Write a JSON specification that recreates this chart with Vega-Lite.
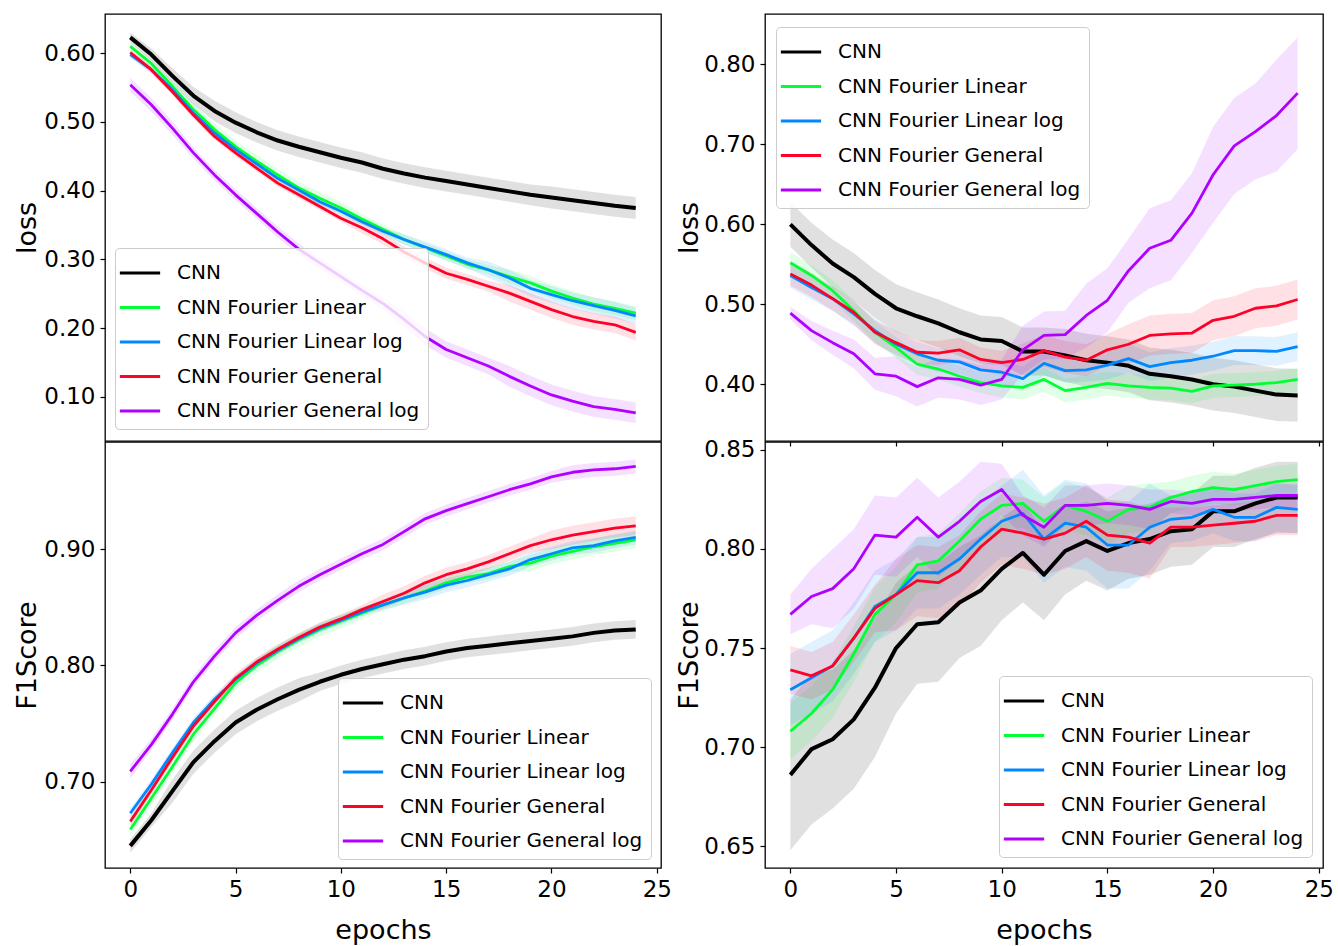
{
"$schema": "https://vega.github.io/schema/vega-lite/v6.json",
"padding": {"left": 12, "top": 13, "right": 4, "bottom": 4},
"background": "white",
"config": {
  "font": "DejaVu Sans",
  "view": {"stroke": "black", "strokeWidth": 1.3},
  "axis": {"domain": false, "grid": false, "ticks": true, "tickColor": "black", "tickSize": 5, "tickWidth": 1.2, "labelFont": "DejaVu Sans", "labelFontSize": 23, "labelColor": "black", "labelPadding": 5, "titleFont": "DejaVu Sans", "titleFontSize": 27, "titleFontWeight": "normal", "titleColor": "black"},
  "legend": {"symbolType": "M-1.3,0H1.3", "symbolSize": 961, "symbolStrokeWidth": 2.8, "labelFont": "DejaVu Sans", "labelFontSize": 20, "labelColor": "black", "labelOffset": 20, "rowPadding": 7.5, "padding": 8, "fillColor": "rgba(255,255,255,0.8)", "strokeColor": "#cccccc", "cornerRadius": 4, "labelLimit": 400}
},
"datasets": {
"tl": [
{"e":0,"s":"CNN","m":0.623,"lo":0.616,"hi":0.630},{"e":1,"s":"CNN","m":0.598,"lo":0.589,"hi":0.607},{"e":2,"s":"CNN","m":0.567,"lo":0.556,"hi":0.578},{"e":3,"s":"CNN","m":0.538,"lo":0.525,"hi":0.551},{"e":4,"s":"CNN","m":0.516,"lo":0.501,"hi":0.531},{"e":5,"s":"CNN","m":0.499,"lo":0.484,"hi":0.514},{"e":6,"s":"CNN","m":0.485,"lo":0.470,"hi":0.500},{"e":7,"s":"CNN","m":0.473,"lo":0.458,"hi":0.488},{"e":8,"s":"CNN","m":0.464,"lo":0.449,"hi":0.479},{"e":9,"s":"CNN","m":0.456,"lo":0.441,"hi":0.471},{"e":10,"s":"CNN","m":0.448,"lo":0.433,"hi":0.463},{"e":11,"s":"CNN","m":0.441,"lo":0.426,"hi":0.456},{"e":12,"s":"CNN","m":0.432,"lo":0.417,"hi":0.447},{"e":13,"s":"CNN","m":0.425,"lo":0.410,"hi":0.440},{"e":14,"s":"CNN","m":0.419,"lo":0.404,"hi":0.434},{"e":15,"s":"CNN","m":0.414,"lo":0.399,"hi":0.429},{"e":16,"s":"CNN","m":0.409,"lo":0.394,"hi":0.424},{"e":17,"s":"CNN","m":0.404,"lo":0.389,"hi":0.419},{"e":18,"s":"CNN","m":0.399,"lo":0.384,"hi":0.414},{"e":19,"s":"CNN","m":0.394,"lo":0.379,"hi":0.409},{"e":20,"s":"CNN","m":0.390,"lo":0.374,"hi":0.406},{"e":21,"s":"CNN","m":0.386,"lo":0.370,"hi":0.402},{"e":22,"s":"CNN","m":0.382,"lo":0.366,"hi":0.398},{"e":23,"s":"CNN","m":0.378,"lo":0.362,"hi":0.394},{"e":24,"s":"CNN","m":0.375,"lo":0.359,"hi":0.391},
{"e":0,"s":"CNN Fourier Linear","m":0.610,"lo":0.604,"hi":0.616},{"e":1,"s":"CNN Fourier Linear","m":0.585,"lo":0.579,"hi":0.591},{"e":2,"s":"CNN Fourier Linear","m":0.552,"lo":0.546,"hi":0.558},{"e":3,"s":"CNN Fourier Linear","m":0.518,"lo":0.509,"hi":0.527},{"e":4,"s":"CNN Fourier Linear","m":0.489,"lo":0.480,"hi":0.498},{"e":5,"s":"CNN Fourier Linear","m":0.464,"lo":0.455,"hi":0.473},{"e":6,"s":"CNN Fourier Linear","m":0.443,"lo":0.434,"hi":0.452},{"e":7,"s":"CNN Fourier Linear","m":0.423,"lo":0.414,"hi":0.432},{"e":8,"s":"CNN Fourier Linear","m":0.404,"lo":0.395,"hi":0.413},{"e":9,"s":"CNN Fourier Linear","m":0.389,"lo":0.380,"hi":0.398},{"e":10,"s":"CNN Fourier Linear","m":0.375,"lo":0.366,"hi":0.384},{"e":11,"s":"CNN Fourier Linear","m":0.359,"lo":0.352,"hi":0.366},{"e":12,"s":"CNN Fourier Linear","m":0.344,"lo":0.337,"hi":0.351},{"e":13,"s":"CNN Fourier Linear","m":0.329,"lo":0.322,"hi":0.336},{"e":14,"s":"CNN Fourier Linear","m":0.317,"lo":0.310,"hi":0.324},{"e":15,"s":"CNN Fourier Linear","m":0.305,"lo":0.298,"hi":0.312},{"e":16,"s":"CNN Fourier Linear","m":0.293,"lo":0.286,"hi":0.300},{"e":17,"s":"CNN Fourier Linear","m":0.285,"lo":0.278,"hi":0.292},{"e":18,"s":"CNN Fourier Linear","m":0.275,"lo":0.265,"hi":0.285},{"e":19,"s":"CNN Fourier Linear","m":0.266,"lo":0.256,"hi":0.276},{"e":20,"s":"CNN Fourier Linear","m":0.254,"lo":0.244,"hi":0.264},{"e":21,"s":"CNN Fourier Linear","m":0.244,"lo":0.234,"hi":0.254},{"e":22,"s":"CNN Fourier Linear","m":0.235,"lo":0.225,"hi":0.245},{"e":23,"s":"CNN Fourier Linear","m":0.229,"lo":0.219,"hi":0.239},{"e":24,"s":"CNN Fourier Linear","m":0.222,"lo":0.212,"hi":0.232},
{"e":0,"s":"CNN Fourier Linear log","m":0.598,"lo":0.593,"hi":0.603},{"e":1,"s":"CNN Fourier Linear log","m":0.576,"lo":0.571,"hi":0.581},{"e":2,"s":"CNN Fourier Linear log","m":0.547,"lo":0.542,"hi":0.552},{"e":3,"s":"CNN Fourier Linear log","m":0.513,"lo":0.508,"hi":0.518},{"e":4,"s":"CNN Fourier Linear log","m":0.484,"lo":0.479,"hi":0.489},{"e":5,"s":"CNN Fourier Linear log","m":0.460,"lo":0.455,"hi":0.465},{"e":6,"s":"CNN Fourier Linear log","m":0.439,"lo":0.434,"hi":0.444},{"e":7,"s":"CNN Fourier Linear log","m":0.418,"lo":0.413,"hi":0.423},{"e":8,"s":"CNN Fourier Linear log","m":0.401,"lo":0.396,"hi":0.406},{"e":9,"s":"CNN Fourier Linear log","m":0.384,"lo":0.379,"hi":0.389},{"e":10,"s":"CNN Fourier Linear log","m":0.370,"lo":0.365,"hi":0.375},{"e":11,"s":"CNN Fourier Linear log","m":0.355,"lo":0.350,"hi":0.360},{"e":12,"s":"CNN Fourier Linear log","m":0.341,"lo":0.336,"hi":0.346},{"e":13,"s":"CNN Fourier Linear log","m":0.329,"lo":0.321,"hi":0.337},{"e":14,"s":"CNN Fourier Linear log","m":0.318,"lo":0.310,"hi":0.326},{"e":15,"s":"CNN Fourier Linear log","m":0.307,"lo":0.299,"hi":0.315},{"e":16,"s":"CNN Fourier Linear log","m":0.295,"lo":0.287,"hi":0.303},{"e":17,"s":"CNN Fourier Linear log","m":0.285,"lo":0.273,"hi":0.297},{"e":18,"s":"CNN Fourier Linear log","m":0.273,"lo":0.261,"hi":0.285},{"e":19,"s":"CNN Fourier Linear log","m":0.258,"lo":0.246,"hi":0.270},{"e":20,"s":"CNN Fourier Linear log","m":0.249,"lo":0.237,"hi":0.261},{"e":21,"s":"CNN Fourier Linear log","m":0.240,"lo":0.228,"hi":0.252},{"e":22,"s":"CNN Fourier Linear log","m":0.233,"lo":0.221,"hi":0.245},{"e":23,"s":"CNN Fourier Linear log","m":0.226,"lo":0.214,"hi":0.238},{"e":24,"s":"CNN Fourier Linear log","m":0.218,"lo":0.206,"hi":0.230},
{"e":0,"s":"CNN Fourier General","m":0.601,"lo":0.596,"hi":0.606},{"e":1,"s":"CNN Fourier General","m":0.576,"lo":0.571,"hi":0.581},{"e":2,"s":"CNN Fourier General","m":0.544,"lo":0.539,"hi":0.549},{"e":3,"s":"CNN Fourier General","m":0.510,"lo":0.505,"hi":0.515},{"e":4,"s":"CNN Fourier General","m":0.479,"lo":0.474,"hi":0.484},{"e":5,"s":"CNN Fourier General","m":0.455,"lo":0.450,"hi":0.460},{"e":6,"s":"CNN Fourier General","m":0.433,"lo":0.428,"hi":0.438},{"e":7,"s":"CNN Fourier General","m":0.411,"lo":0.406,"hi":0.416},{"e":8,"s":"CNN Fourier General","m":0.394,"lo":0.389,"hi":0.399},{"e":9,"s":"CNN Fourier General","m":0.377,"lo":0.372,"hi":0.382},{"e":10,"s":"CNN Fourier General","m":0.360,"lo":0.355,"hi":0.365},{"e":11,"s":"CNN Fourier General","m":0.346,"lo":0.338,"hi":0.354},{"e":12,"s":"CNN Fourier General","m":0.330,"lo":0.322,"hi":0.338},{"e":13,"s":"CNN Fourier General","m":0.311,"lo":0.303,"hi":0.319},{"e":14,"s":"CNN Fourier General","m":0.295,"lo":0.287,"hi":0.303},{"e":15,"s":"CNN Fourier General","m":0.280,"lo":0.272,"hi":0.288},{"e":16,"s":"CNN Fourier General","m":0.271,"lo":0.263,"hi":0.279},{"e":17,"s":"CNN Fourier General","m":0.261,"lo":0.253,"hi":0.269},{"e":18,"s":"CNN Fourier General","m":0.251,"lo":0.239,"hi":0.263},{"e":19,"s":"CNN Fourier General","m":0.239,"lo":0.227,"hi":0.251},{"e":20,"s":"CNN Fourier General","m":0.227,"lo":0.215,"hi":0.239},{"e":21,"s":"CNN Fourier General","m":0.217,"lo":0.205,"hi":0.229},{"e":22,"s":"CNN Fourier General","m":0.210,"lo":0.198,"hi":0.222},{"e":23,"s":"CNN Fourier General","m":0.205,"lo":0.193,"hi":0.217},{"e":24,"s":"CNN Fourier General","m":0.194,"lo":0.182,"hi":0.206},
{"e":0,"s":"CNN Fourier General log","m":0.554,"lo":0.544,"hi":0.564},{"e":1,"s":"CNN Fourier General log","m":0.525,"lo":0.515,"hi":0.535},{"e":2,"s":"CNN Fourier General log","m":0.491,"lo":0.481,"hi":0.501},{"e":3,"s":"CNN Fourier General log","m":0.455,"lo":0.447,"hi":0.463},{"e":4,"s":"CNN Fourier General log","m":0.423,"lo":0.415,"hi":0.431},{"e":5,"s":"CNN Fourier General log","m":0.394,"lo":0.386,"hi":0.402},{"e":6,"s":"CNN Fourier General log","m":0.367,"lo":0.359,"hi":0.375},{"e":7,"s":"CNN Fourier General log","m":0.340,"lo":0.332,"hi":0.348},{"e":8,"s":"CNN Fourier General log","m":0.315,"lo":0.307,"hi":0.323},{"e":9,"s":"CNN Fourier General log","m":0.295,"lo":0.287,"hi":0.303},{"e":10,"s":"CNN Fourier General log","m":0.275,"lo":0.267,"hi":0.283},{"e":11,"s":"CNN Fourier General log","m":0.255,"lo":0.247,"hi":0.263},{"e":12,"s":"CNN Fourier General log","m":0.236,"lo":0.228,"hi":0.244},{"e":13,"s":"CNN Fourier General log","m":0.213,"lo":0.201,"hi":0.225},{"e":14,"s":"CNN Fourier General log","m":0.188,"lo":0.176,"hi":0.200},{"e":15,"s":"CNN Fourier General log","m":0.169,"lo":0.157,"hi":0.181},{"e":16,"s":"CNN Fourier General log","m":0.157,"lo":0.145,"hi":0.169},{"e":17,"s":"CNN Fourier General log","m":0.145,"lo":0.133,"hi":0.157},{"e":18,"s":"CNN Fourier General log","m":0.130,"lo":0.115,"hi":0.145},{"e":19,"s":"CNN Fourier General log","m":0.116,"lo":0.101,"hi":0.131},{"e":20,"s":"CNN Fourier General log","m":0.103,"lo":0.088,"hi":0.118},{"e":21,"s":"CNN Fourier General log","m":0.094,"lo":0.079,"hi":0.109},{"e":22,"s":"CNN Fourier General log","m":0.086,"lo":0.071,"hi":0.101},{"e":23,"s":"CNN Fourier General log","m":0.082,"lo":0.067,"hi":0.097},{"e":24,"s":"CNN Fourier General log","m":0.077,"lo":0.062,"hi":0.092}
],
"bl": [
{"e":0,"s":"CNN","m":0.645,"lo":0.639,"hi":0.651},{"e":1,"s":"CNN","m":0.667,"lo":0.661,"hi":0.673},{"e":2,"s":"CNN","m":0.692,"lo":0.682,"hi":0.702},{"e":3,"s":"CNN","m":0.717,"lo":0.707,"hi":0.727},{"e":4,"s":"CNN","m":0.735,"lo":0.725,"hi":0.745},{"e":5,"s":"CNN","m":0.751,"lo":0.741,"hi":0.761},{"e":6,"s":"CNN","m":0.762,"lo":0.752,"hi":0.772},{"e":7,"s":"CNN","m":0.771,"lo":0.761,"hi":0.781},{"e":8,"s":"CNN","m":0.779,"lo":0.769,"hi":0.789},{"e":9,"s":"CNN","m":0.786,"lo":0.778,"hi":0.794},{"e":10,"s":"CNN","m":0.792,"lo":0.784,"hi":0.800},{"e":11,"s":"CNN","m":0.797,"lo":0.789,"hi":0.805},{"e":12,"s":"CNN","m":0.801,"lo":0.793,"hi":0.809},{"e":13,"s":"CNN","m":0.805,"lo":0.797,"hi":0.813},{"e":14,"s":"CNN","m":0.808,"lo":0.800,"hi":0.816},{"e":15,"s":"CNN","m":0.812,"lo":0.804,"hi":0.820},{"e":16,"s":"CNN","m":0.815,"lo":0.807,"hi":0.823},{"e":17,"s":"CNN","m":0.817,"lo":0.809,"hi":0.825},{"e":18,"s":"CNN","m":0.819,"lo":0.811,"hi":0.827},{"e":19,"s":"CNN","m":0.821,"lo":0.813,"hi":0.829},{"e":20,"s":"CNN","m":0.823,"lo":0.815,"hi":0.831},{"e":21,"s":"CNN","m":0.825,"lo":0.817,"hi":0.833},{"e":22,"s":"CNN","m":0.828,"lo":0.820,"hi":0.836},{"e":23,"s":"CNN","m":0.830,"lo":0.822,"hi":0.838},{"e":24,"s":"CNN","m":0.831,"lo":0.823,"hi":0.839},
{"e":0,"s":"CNN Fourier Linear","m":0.659,"lo":0.653,"hi":0.665},{"e":1,"s":"CNN Fourier Linear","m":0.686,"lo":0.680,"hi":0.692},{"e":2,"s":"CNN Fourier Linear","m":0.713,"lo":0.707,"hi":0.719},{"e":3,"s":"CNN Fourier Linear","m":0.741,"lo":0.735,"hi":0.747},{"e":4,"s":"CNN Fourier Linear","m":0.763,"lo":0.757,"hi":0.769},{"e":5,"s":"CNN Fourier Linear","m":0.785,"lo":0.779,"hi":0.791},{"e":6,"s":"CNN Fourier Linear","m":0.800,"lo":0.794,"hi":0.806},{"e":7,"s":"CNN Fourier Linear","m":0.812,"lo":0.806,"hi":0.818},{"e":8,"s":"CNN Fourier Linear","m":0.822,"lo":0.816,"hi":0.828},{"e":9,"s":"CNN Fourier Linear","m":0.831,"lo":0.825,"hi":0.837},{"e":10,"s":"CNN Fourier Linear","m":0.838,"lo":0.832,"hi":0.844},{"e":11,"s":"CNN Fourier Linear","m":0.845,"lo":0.840,"hi":0.850},{"e":12,"s":"CNN Fourier Linear","m":0.852,"lo":0.847,"hi":0.857},{"e":13,"s":"CNN Fourier Linear","m":0.858,"lo":0.853,"hi":0.863},{"e":14,"s":"CNN Fourier Linear","m":0.864,"lo":0.859,"hi":0.869},{"e":15,"s":"CNN Fourier Linear","m":0.871,"lo":0.866,"hi":0.876},{"e":16,"s":"CNN Fourier Linear","m":0.876,"lo":0.871,"hi":0.881},{"e":17,"s":"CNN Fourier Linear","m":0.879,"lo":0.874,"hi":0.884},{"e":18,"s":"CNN Fourier Linear","m":0.885,"lo":0.880,"hi":0.890},{"e":19,"s":"CNN Fourier Linear","m":0.888,"lo":0.881,"hi":0.895},{"e":20,"s":"CNN Fourier Linear","m":0.894,"lo":0.887,"hi":0.901},{"e":21,"s":"CNN Fourier Linear","m":0.898,"lo":0.891,"hi":0.905},{"e":22,"s":"CNN Fourier Linear","m":0.902,"lo":0.895,"hi":0.909},{"e":23,"s":"CNN Fourier Linear","m":0.905,"lo":0.898,"hi":0.912},{"e":24,"s":"CNN Fourier Linear","m":0.908,"lo":0.901,"hi":0.915},
{"e":0,"s":"CNN Fourier Linear log","m":0.673,"lo":0.669,"hi":0.677},{"e":1,"s":"CNN Fourier Linear log","m":0.698,"lo":0.694,"hi":0.702},{"e":2,"s":"CNN Fourier Linear log","m":0.725,"lo":0.721,"hi":0.729},{"e":3,"s":"CNN Fourier Linear log","m":0.751,"lo":0.747,"hi":0.755},{"e":4,"s":"CNN Fourier Linear log","m":0.771,"lo":0.767,"hi":0.775},{"e":5,"s":"CNN Fourier Linear log","m":0.788,"lo":0.784,"hi":0.792},{"e":6,"s":"CNN Fourier Linear log","m":0.802,"lo":0.798,"hi":0.806},{"e":7,"s":"CNN Fourier Linear log","m":0.813,"lo":0.809,"hi":0.817},{"e":8,"s":"CNN Fourier Linear log","m":0.823,"lo":0.819,"hi":0.827},{"e":9,"s":"CNN Fourier Linear log","m":0.832,"lo":0.828,"hi":0.836},{"e":10,"s":"CNN Fourier Linear log","m":0.839,"lo":0.835,"hi":0.843},{"e":11,"s":"CNN Fourier Linear log","m":0.846,"lo":0.842,"hi":0.850},{"e":12,"s":"CNN Fourier Linear log","m":0.852,"lo":0.848,"hi":0.856},{"e":13,"s":"CNN Fourier Linear log","m":0.858,"lo":0.852,"hi":0.864},{"e":14,"s":"CNN Fourier Linear log","m":0.863,"lo":0.857,"hi":0.869},{"e":15,"s":"CNN Fourier Linear log","m":0.869,"lo":0.863,"hi":0.875},{"e":16,"s":"CNN Fourier Linear log","m":0.873,"lo":0.867,"hi":0.879},{"e":17,"s":"CNN Fourier Linear log","m":0.878,"lo":0.872,"hi":0.884},{"e":18,"s":"CNN Fourier Linear log","m":0.883,"lo":0.877,"hi":0.889},{"e":19,"s":"CNN Fourier Linear log","m":0.891,"lo":0.885,"hi":0.897},{"e":20,"s":"CNN Fourier Linear log","m":0.896,"lo":0.890,"hi":0.902},{"e":21,"s":"CNN Fourier Linear log","m":0.901,"lo":0.895,"hi":0.907},{"e":22,"s":"CNN Fourier Linear log","m":0.903,"lo":0.897,"hi":0.909},{"e":23,"s":"CNN Fourier Linear log","m":0.907,"lo":0.901,"hi":0.913},{"e":24,"s":"CNN Fourier Linear log","m":0.910,"lo":0.904,"hi":0.916},
{"e":0,"s":"CNN Fourier General","m":0.666,"lo":0.662,"hi":0.670},{"e":1,"s":"CNN Fourier General","m":0.693,"lo":0.689,"hi":0.697},{"e":2,"s":"CNN Fourier General","m":0.721,"lo":0.717,"hi":0.725},{"e":3,"s":"CNN Fourier General","m":0.748,"lo":0.744,"hi":0.752},{"e":4,"s":"CNN Fourier General","m":0.769,"lo":0.765,"hi":0.773},{"e":5,"s":"CNN Fourier General","m":0.789,"lo":0.785,"hi":0.793},{"e":6,"s":"CNN Fourier General","m":0.803,"lo":0.799,"hi":0.807},{"e":7,"s":"CNN Fourier General","m":0.814,"lo":0.810,"hi":0.818},{"e":8,"s":"CNN Fourier General","m":0.824,"lo":0.820,"hi":0.828},{"e":9,"s":"CNN Fourier General","m":0.833,"lo":0.829,"hi":0.837},{"e":10,"s":"CNN Fourier General","m":0.840,"lo":0.836,"hi":0.844},{"e":11,"s":"CNN Fourier General","m":0.848,"lo":0.844,"hi":0.852},{"e":12,"s":"CNN Fourier General","m":0.855,"lo":0.849,"hi":0.861},{"e":13,"s":"CNN Fourier General","m":0.862,"lo":0.856,"hi":0.868},{"e":14,"s":"CNN Fourier General","m":0.871,"lo":0.865,"hi":0.877},{"e":15,"s":"CNN Fourier General","m":0.878,"lo":0.872,"hi":0.884},{"e":16,"s":"CNN Fourier General","m":0.883,"lo":0.877,"hi":0.889},{"e":17,"s":"CNN Fourier General","m":0.889,"lo":0.883,"hi":0.895},{"e":18,"s":"CNN Fourier General","m":0.896,"lo":0.890,"hi":0.902},{"e":19,"s":"CNN Fourier General","m":0.903,"lo":0.897,"hi":0.909},{"e":20,"s":"CNN Fourier General","m":0.908,"lo":0.900,"hi":0.916},{"e":21,"s":"CNN Fourier General","m":0.912,"lo":0.904,"hi":0.920},{"e":22,"s":"CNN Fourier General","m":0.915,"lo":0.907,"hi":0.923},{"e":23,"s":"CNN Fourier General","m":0.918,"lo":0.910,"hi":0.926},{"e":24,"s":"CNN Fourier General","m":0.920,"lo":0.912,"hi":0.928},
{"e":0,"s":"CNN Fourier General log","m":0.709,"lo":0.703,"hi":0.715},{"e":1,"s":"CNN Fourier General log","m":0.732,"lo":0.727,"hi":0.737},{"e":2,"s":"CNN Fourier General log","m":0.758,"lo":0.753,"hi":0.763},{"e":3,"s":"CNN Fourier General log","m":0.786,"lo":0.781,"hi":0.791},{"e":4,"s":"CNN Fourier General log","m":0.808,"lo":0.803,"hi":0.813},{"e":5,"s":"CNN Fourier General log","m":0.828,"lo":0.823,"hi":0.833},{"e":6,"s":"CNN Fourier General log","m":0.843,"lo":0.838,"hi":0.848},{"e":7,"s":"CNN Fourier General log","m":0.856,"lo":0.851,"hi":0.861},{"e":8,"s":"CNN Fourier General log","m":0.868,"lo":0.863,"hi":0.873},{"e":9,"s":"CNN Fourier General log","m":0.878,"lo":0.873,"hi":0.883},{"e":10,"s":"CNN Fourier General log","m":0.887,"lo":0.882,"hi":0.892},{"e":11,"s":"CNN Fourier General log","m":0.896,"lo":0.891,"hi":0.901},{"e":12,"s":"CNN Fourier General log","m":0.904,"lo":0.899,"hi":0.909},{"e":13,"s":"CNN Fourier General log","m":0.915,"lo":0.910,"hi":0.920},{"e":14,"s":"CNN Fourier General log","m":0.926,"lo":0.921,"hi":0.931},{"e":15,"s":"CNN Fourier General log","m":0.933,"lo":0.928,"hi":0.938},{"e":16,"s":"CNN Fourier General log","m":0.939,"lo":0.934,"hi":0.944},{"e":17,"s":"CNN Fourier General log","m":0.945,"lo":0.940,"hi":0.950},{"e":18,"s":"CNN Fourier General log","m":0.951,"lo":0.946,"hi":0.956},{"e":19,"s":"CNN Fourier General log","m":0.956,"lo":0.951,"hi":0.961},{"e":20,"s":"CNN Fourier General log","m":0.962,"lo":0.957,"hi":0.967},{"e":21,"s":"CNN Fourier General log","m":0.966,"lo":0.960,"hi":0.972},{"e":22,"s":"CNN Fourier General log","m":0.968,"lo":0.962,"hi":0.974},{"e":23,"s":"CNN Fourier General log","m":0.969,"lo":0.963,"hi":0.975},{"e":24,"s":"CNN Fourier General log","m":0.971,"lo":0.965,"hi":0.977}
],
"tr": [
{"e":0,"s":"CNN","m":0.600,"lo":0.572,"hi":0.628},{"e":1,"s":"CNN","m":0.574,"lo":0.546,"hi":0.602},{"e":2,"s":"CNN","m":0.551,"lo":0.521,"hi":0.581},{"e":3,"s":"CNN","m":0.534,"lo":0.504,"hi":0.564},{"e":4,"s":"CNN","m":0.513,"lo":0.483,"hi":0.543},{"e":5,"s":"CNN","m":0.495,"lo":0.465,"hi":0.525},{"e":6,"s":"CNN","m":0.485,"lo":0.455,"hi":0.515},{"e":7,"s":"CNN","m":0.476,"lo":0.446,"hi":0.506},{"e":8,"s":"CNN","m":0.465,"lo":0.435,"hi":0.495},{"e":9,"s":"CNN","m":0.456,"lo":0.426,"hi":0.486},{"e":10,"s":"CNN","m":0.454,"lo":0.424,"hi":0.484},{"e":11,"s":"CNN","m":0.441,"lo":0.411,"hi":0.471},{"e":12,"s":"CNN","m":0.441,"lo":0.411,"hi":0.471},{"e":13,"s":"CNN","m":0.436,"lo":0.403,"hi":0.469},{"e":14,"s":"CNN","m":0.430,"lo":0.397,"hi":0.463},{"e":15,"s":"CNN","m":0.427,"lo":0.394,"hi":0.460},{"e":16,"s":"CNN","m":0.423,"lo":0.390,"hi":0.456},{"e":17,"s":"CNN","m":0.413,"lo":0.380,"hi":0.446},{"e":18,"s":"CNN","m":0.410,"lo":0.377,"hi":0.443},{"e":19,"s":"CNN","m":0.406,"lo":0.373,"hi":0.439},{"e":20,"s":"CNN","m":0.400,"lo":0.367,"hi":0.433},{"e":21,"s":"CNN","m":0.397,"lo":0.364,"hi":0.430},{"e":22,"s":"CNN","m":0.392,"lo":0.359,"hi":0.425},{"e":23,"s":"CNN","m":0.387,"lo":0.354,"hi":0.420},{"e":24,"s":"CNN","m":0.386,"lo":0.353,"hi":0.419},
{"e":0,"s":"CNN Fourier Linear","m":0.552,"lo":0.539,"hi":0.565},{"e":1,"s":"CNN Fourier Linear","m":0.536,"lo":0.523,"hi":0.549},{"e":2,"s":"CNN Fourier Linear","m":0.517,"lo":0.504,"hi":0.530},{"e":3,"s":"CNN Fourier Linear","m":0.492,"lo":0.479,"hi":0.505},{"e":4,"s":"CNN Fourier Linear","m":0.465,"lo":0.452,"hi":0.478},{"e":5,"s":"CNN Fourier Linear","m":0.446,"lo":0.433,"hi":0.459},{"e":6,"s":"CNN Fourier Linear","m":0.425,"lo":0.412,"hi":0.438},{"e":7,"s":"CNN Fourier Linear","m":0.419,"lo":0.406,"hi":0.432},{"e":8,"s":"CNN Fourier Linear","m":0.410,"lo":0.397,"hi":0.423},{"e":9,"s":"CNN Fourier Linear","m":0.402,"lo":0.389,"hi":0.415},{"e":10,"s":"CNN Fourier Linear","m":0.398,"lo":0.383,"hi":0.413},{"e":11,"s":"CNN Fourier Linear","m":0.396,"lo":0.381,"hi":0.411},{"e":12,"s":"CNN Fourier Linear","m":0.406,"lo":0.391,"hi":0.421},{"e":13,"s":"CNN Fourier Linear","m":0.392,"lo":0.377,"hi":0.407},{"e":14,"s":"CNN Fourier Linear","m":0.396,"lo":0.381,"hi":0.411},{"e":15,"s":"CNN Fourier Linear","m":0.401,"lo":0.386,"hi":0.416},{"e":16,"s":"CNN Fourier Linear","m":0.398,"lo":0.383,"hi":0.413},{"e":17,"s":"CNN Fourier Linear","m":0.396,"lo":0.381,"hi":0.411},{"e":18,"s":"CNN Fourier Linear","m":0.395,"lo":0.380,"hi":0.410},{"e":19,"s":"CNN Fourier Linear","m":0.391,"lo":0.376,"hi":0.406},{"e":20,"s":"CNN Fourier Linear","m":0.398,"lo":0.383,"hi":0.413},{"e":21,"s":"CNN Fourier Linear","m":0.399,"lo":0.384,"hi":0.414},{"e":22,"s":"CNN Fourier Linear","m":0.400,"lo":0.385,"hi":0.415},{"e":23,"s":"CNN Fourier Linear","m":0.402,"lo":0.387,"hi":0.417},{"e":24,"s":"CNN Fourier Linear","m":0.406,"lo":0.391,"hi":0.421},
{"e":0,"s":"CNN Fourier Linear log","m":0.536,"lo":0.521,"hi":0.551},{"e":1,"s":"CNN Fourier Linear log","m":0.521,"lo":0.506,"hi":0.536},{"e":2,"s":"CNN Fourier Linear log","m":0.507,"lo":0.492,"hi":0.522},{"e":3,"s":"CNN Fourier Linear log","m":0.488,"lo":0.473,"hi":0.503},{"e":4,"s":"CNN Fourier Linear log","m":0.467,"lo":0.452,"hi":0.482},{"e":5,"s":"CNN Fourier Linear log","m":0.450,"lo":0.435,"hi":0.465},{"e":6,"s":"CNN Fourier Linear log","m":0.438,"lo":0.423,"hi":0.453},{"e":7,"s":"CNN Fourier Linear log","m":0.430,"lo":0.415,"hi":0.445},{"e":8,"s":"CNN Fourier Linear log","m":0.428,"lo":0.413,"hi":0.443},{"e":9,"s":"CNN Fourier Linear log","m":0.418,"lo":0.403,"hi":0.433},{"e":10,"s":"CNN Fourier Linear log","m":0.415,"lo":0.400,"hi":0.430},{"e":11,"s":"CNN Fourier Linear log","m":0.407,"lo":0.392,"hi":0.422},{"e":12,"s":"CNN Fourier Linear log","m":0.426,"lo":0.411,"hi":0.441},{"e":13,"s":"CNN Fourier Linear log","m":0.417,"lo":0.402,"hi":0.432},{"e":14,"s":"CNN Fourier Linear log","m":0.418,"lo":0.403,"hi":0.433},{"e":15,"s":"CNN Fourier Linear log","m":0.424,"lo":0.406,"hi":0.442},{"e":16,"s":"CNN Fourier Linear log","m":0.432,"lo":0.414,"hi":0.450},{"e":17,"s":"CNN Fourier Linear log","m":0.422,"lo":0.404,"hi":0.440},{"e":18,"s":"CNN Fourier Linear log","m":0.427,"lo":0.409,"hi":0.445},{"e":19,"s":"CNN Fourier Linear log","m":0.430,"lo":0.412,"hi":0.448},{"e":20,"s":"CNN Fourier Linear log","m":0.435,"lo":0.417,"hi":0.453},{"e":21,"s":"CNN Fourier Linear log","m":0.442,"lo":0.424,"hi":0.460},{"e":22,"s":"CNN Fourier Linear log","m":0.442,"lo":0.424,"hi":0.460},{"e":23,"s":"CNN Fourier Linear log","m":0.441,"lo":0.423,"hi":0.459},{"e":24,"s":"CNN Fourier Linear log","m":0.447,"lo":0.429,"hi":0.465},
{"e":0,"s":"CNN Fourier General","m":0.538,"lo":0.523,"hi":0.553},{"e":1,"s":"CNN Fourier General","m":0.524,"lo":0.509,"hi":0.539},{"e":2,"s":"CNN Fourier General","m":0.507,"lo":0.492,"hi":0.522},{"e":3,"s":"CNN Fourier General","m":0.490,"lo":0.475,"hi":0.505},{"e":4,"s":"CNN Fourier General","m":0.465,"lo":0.450,"hi":0.480},{"e":5,"s":"CNN Fourier General","m":0.452,"lo":0.437,"hi":0.467},{"e":6,"s":"CNN Fourier General","m":0.440,"lo":0.425,"hi":0.455},{"e":7,"s":"CNN Fourier General","m":0.439,"lo":0.424,"hi":0.454},{"e":8,"s":"CNN Fourier General","m":0.443,"lo":0.428,"hi":0.458},{"e":9,"s":"CNN Fourier General","m":0.431,"lo":0.416,"hi":0.446},{"e":10,"s":"CNN Fourier General","m":0.427,"lo":0.412,"hi":0.442},{"e":11,"s":"CNN Fourier General","m":0.431,"lo":0.411,"hi":0.451},{"e":12,"s":"CNN Fourier General","m":0.442,"lo":0.422,"hi":0.462},{"e":13,"s":"CNN Fourier General","m":0.434,"lo":0.414,"hi":0.454},{"e":14,"s":"CNN Fourier General","m":0.430,"lo":0.410,"hi":0.450},{"e":15,"s":"CNN Fourier General","m":0.443,"lo":0.423,"hi":0.463},{"e":16,"s":"CNN Fourier General","m":0.450,"lo":0.425,"hi":0.475},{"e":17,"s":"CNN Fourier General","m":0.461,"lo":0.436,"hi":0.486},{"e":18,"s":"CNN Fourier General","m":0.463,"lo":0.438,"hi":0.488},{"e":19,"s":"CNN Fourier General","m":0.464,"lo":0.439,"hi":0.489},{"e":20,"s":"CNN Fourier General","m":0.480,"lo":0.455,"hi":0.505},{"e":21,"s":"CNN Fourier General","m":0.485,"lo":0.460,"hi":0.510},{"e":22,"s":"CNN Fourier General","m":0.495,"lo":0.470,"hi":0.520},{"e":23,"s":"CNN Fourier General","m":0.498,"lo":0.473,"hi":0.523},{"e":24,"s":"CNN Fourier General","m":0.506,"lo":0.481,"hi":0.531},
{"e":0,"s":"CNN Fourier General log","m":0.489,"lo":0.481,"hi":0.497},{"e":1,"s":"CNN Fourier General log","m":0.467,"lo":0.455,"hi":0.479},{"e":2,"s":"CNN Fourier General log","m":0.452,"lo":0.437,"hi":0.467},{"e":3,"s":"CNN Fourier General log","m":0.438,"lo":0.420,"hi":0.456},{"e":4,"s":"CNN Fourier General log","m":0.413,"lo":0.393,"hi":0.433},{"e":5,"s":"CNN Fourier General log","m":0.410,"lo":0.385,"hi":0.435},{"e":6,"s":"CNN Fourier General log","m":0.397,"lo":0.372,"hi":0.422},{"e":7,"s":"CNN Fourier General log","m":0.408,"lo":0.383,"hi":0.433},{"e":8,"s":"CNN Fourier General log","m":0.406,"lo":0.381,"hi":0.431},{"e":9,"s":"CNN Fourier General log","m":0.399,"lo":0.374,"hi":0.424},{"e":10,"s":"CNN Fourier General log","m":0.406,"lo":0.381,"hi":0.431},{"e":11,"s":"CNN Fourier General log","m":0.443,"lo":0.413,"hi":0.473},{"e":12,"s":"CNN Fourier General log","m":0.461,"lo":0.431,"hi":0.491},{"e":13,"s":"CNN Fourier General log","m":0.462,"lo":0.432,"hi":0.492},{"e":14,"s":"CNN Fourier General log","m":0.486,"lo":0.446,"hi":0.526},{"e":15,"s":"CNN Fourier General log","m":0.505,"lo":0.465,"hi":0.545},{"e":16,"s":"CNN Fourier General log","m":0.542,"lo":0.502,"hi":0.582},{"e":17,"s":"CNN Fourier General log","m":0.570,"lo":0.520,"hi":0.620},{"e":18,"s":"CNN Fourier General log","m":0.580,"lo":0.530,"hi":0.630},{"e":19,"s":"CNN Fourier General log","m":0.614,"lo":0.564,"hi":0.664},{"e":20,"s":"CNN Fourier General log","m":0.662,"lo":0.602,"hi":0.722},{"e":21,"s":"CNN Fourier General log","m":0.698,"lo":0.638,"hi":0.758},{"e":22,"s":"CNN Fourier General log","m":0.716,"lo":0.656,"hi":0.776},{"e":23,"s":"CNN Fourier General log","m":0.736,"lo":0.666,"hi":0.806},{"e":24,"s":"CNN Fourier General log","m":0.764,"lo":0.694,"hi":0.834}
],
"br": [
{"e":0,"s":"CNN","m":0.686,"lo":0.648,"hi":0.724},{"e":1,"s":"CNN","m":0.699,"lo":0.661,"hi":0.737},{"e":2,"s":"CNN","m":0.704,"lo":0.669,"hi":0.739},{"e":3,"s":"CNN","m":0.714,"lo":0.679,"hi":0.749},{"e":4,"s":"CNN","m":0.730,"lo":0.695,"hi":0.765},{"e":5,"s":"CNN","m":0.750,"lo":0.717,"hi":0.783},{"e":6,"s":"CNN","m":0.762,"lo":0.732,"hi":0.792},{"e":7,"s":"CNN","m":0.763,"lo":0.733,"hi":0.793},{"e":8,"s":"CNN","m":0.773,"lo":0.745,"hi":0.801},{"e":9,"s":"CNN","m":0.779,"lo":0.751,"hi":0.807},{"e":10,"s":"CNN","m":0.790,"lo":0.764,"hi":0.816},{"e":11,"s":"CNN","m":0.798,"lo":0.773,"hi":0.823},{"e":12,"s":"CNN","m":0.787,"lo":0.764,"hi":0.810},{"e":13,"s":"CNN","m":0.799,"lo":0.777,"hi":0.821},{"e":14,"s":"CNN","m":0.804,"lo":0.784,"hi":0.824},{"e":15,"s":"CNN","m":0.799,"lo":0.779,"hi":0.819},{"e":16,"s":"CNN","m":0.803,"lo":0.785,"hi":0.821},{"e":17,"s":"CNN","m":0.805,"lo":0.787,"hi":0.823},{"e":18,"s":"CNN","m":0.809,"lo":0.791,"hi":0.827},{"e":19,"s":"CNN","m":0.810,"lo":0.792,"hi":0.828},{"e":20,"s":"CNN","m":0.819,"lo":0.801,"hi":0.837},{"e":21,"s":"CNN","m":0.819,"lo":0.801,"hi":0.837},{"e":22,"s":"CNN","m":0.823,"lo":0.805,"hi":0.841},{"e":23,"s":"CNN","m":0.826,"lo":0.808,"hi":0.844},{"e":24,"s":"CNN","m":0.826,"lo":0.808,"hi":0.844},
{"e":0,"s":"CNN Fourier Linear","m":0.708,"lo":0.694,"hi":0.722},{"e":1,"s":"CNN Fourier Linear","m":0.717,"lo":0.703,"hi":0.731},{"e":2,"s":"CNN Fourier Linear","m":0.729,"lo":0.715,"hi":0.743},{"e":3,"s":"CNN Fourier Linear","m":0.747,"lo":0.733,"hi":0.761},{"e":4,"s":"CNN Fourier Linear","m":0.767,"lo":0.753,"hi":0.781},{"e":5,"s":"CNN Fourier Linear","m":0.777,"lo":0.763,"hi":0.791},{"e":6,"s":"CNN Fourier Linear","m":0.792,"lo":0.778,"hi":0.806},{"e":7,"s":"CNN Fourier Linear","m":0.794,"lo":0.780,"hi":0.808},{"e":8,"s":"CNN Fourier Linear","m":0.804,"lo":0.790,"hi":0.818},{"e":9,"s":"CNN Fourier Linear","m":0.815,"lo":0.801,"hi":0.829},{"e":10,"s":"CNN Fourier Linear","m":0.822,"lo":0.808,"hi":0.836},{"e":11,"s":"CNN Fourier Linear","m":0.823,"lo":0.811,"hi":0.835},{"e":12,"s":"CNN Fourier Linear","m":0.814,"lo":0.802,"hi":0.826},{"e":13,"s":"CNN Fourier Linear","m":0.822,"lo":0.810,"hi":0.834},{"e":14,"s":"CNN Fourier Linear","m":0.819,"lo":0.807,"hi":0.831},{"e":15,"s":"CNN Fourier Linear","m":0.814,"lo":0.802,"hi":0.826},{"e":16,"s":"CNN Fourier Linear","m":0.820,"lo":0.808,"hi":0.832},{"e":17,"s":"CNN Fourier Linear","m":0.821,"lo":0.809,"hi":0.833},{"e":18,"s":"CNN Fourier Linear","m":0.826,"lo":0.818,"hi":0.834},{"e":19,"s":"CNN Fourier Linear","m":0.829,"lo":0.821,"hi":0.837},{"e":20,"s":"CNN Fourier Linear","m":0.831,"lo":0.823,"hi":0.839},{"e":21,"s":"CNN Fourier Linear","m":0.830,"lo":0.822,"hi":0.838},{"e":22,"s":"CNN Fourier Linear","m":0.832,"lo":0.824,"hi":0.840},{"e":23,"s":"CNN Fourier Linear","m":0.834,"lo":0.826,"hi":0.842},{"e":24,"s":"CNN Fourier Linear","m":0.835,"lo":0.827,"hi":0.843},
{"e":0,"s":"CNN Fourier Linear log","m":0.729,"lo":0.711,"hi":0.747},{"e":1,"s":"CNN Fourier Linear log","m":0.735,"lo":0.717,"hi":0.753},{"e":2,"s":"CNN Fourier Linear log","m":0.741,"lo":0.723,"hi":0.759},{"e":3,"s":"CNN Fourier Linear log","m":0.755,"lo":0.737,"hi":0.773},{"e":4,"s":"CNN Fourier Linear log","m":0.771,"lo":0.753,"hi":0.789},{"e":5,"s":"CNN Fourier Linear log","m":0.777,"lo":0.759,"hi":0.795},{"e":6,"s":"CNN Fourier Linear log","m":0.788,"lo":0.770,"hi":0.806},{"e":7,"s":"CNN Fourier Linear log","m":0.788,"lo":0.770,"hi":0.806},{"e":8,"s":"CNN Fourier Linear log","m":0.795,"lo":0.777,"hi":0.813},{"e":9,"s":"CNN Fourier Linear log","m":0.805,"lo":0.787,"hi":0.823},{"e":10,"s":"CNN Fourier Linear log","m":0.814,"lo":0.796,"hi":0.832},{"e":11,"s":"CNN Fourier Linear log","m":0.818,"lo":0.796,"hi":0.840},{"e":12,"s":"CNN Fourier Linear log","m":0.805,"lo":0.783,"hi":0.827},{"e":13,"s":"CNN Fourier Linear log","m":0.813,"lo":0.791,"hi":0.835},{"e":14,"s":"CNN Fourier Linear log","m":0.811,"lo":0.789,"hi":0.833},{"e":15,"s":"CNN Fourier Linear log","m":0.802,"lo":0.780,"hi":0.824},{"e":16,"s":"CNN Fourier Linear log","m":0.802,"lo":0.780,"hi":0.824},{"e":17,"s":"CNN Fourier Linear log","m":0.811,"lo":0.789,"hi":0.833},{"e":18,"s":"CNN Fourier Linear log","m":0.815,"lo":0.803,"hi":0.827},{"e":19,"s":"CNN Fourier Linear log","m":0.816,"lo":0.804,"hi":0.828},{"e":20,"s":"CNN Fourier Linear log","m":0.820,"lo":0.808,"hi":0.832},{"e":21,"s":"CNN Fourier Linear log","m":0.816,"lo":0.804,"hi":0.828},{"e":22,"s":"CNN Fourier Linear log","m":0.816,"lo":0.804,"hi":0.828},{"e":23,"s":"CNN Fourier Linear log","m":0.821,"lo":0.809,"hi":0.833},{"e":24,"s":"CNN Fourier Linear log","m":0.820,"lo":0.808,"hi":0.832},
{"e":0,"s":"CNN Fourier General","m":0.739,"lo":0.727,"hi":0.751},{"e":1,"s":"CNN Fourier General","m":0.736,"lo":0.724,"hi":0.748},{"e":2,"s":"CNN Fourier General","m":0.741,"lo":0.729,"hi":0.753},{"e":3,"s":"CNN Fourier General","m":0.755,"lo":0.743,"hi":0.767},{"e":4,"s":"CNN Fourier General","m":0.770,"lo":0.758,"hi":0.782},{"e":5,"s":"CNN Fourier General","m":0.777,"lo":0.759,"hi":0.795},{"e":6,"s":"CNN Fourier General","m":0.784,"lo":0.766,"hi":0.802},{"e":7,"s":"CNN Fourier General","m":0.783,"lo":0.765,"hi":0.801},{"e":8,"s":"CNN Fourier General","m":0.789,"lo":0.771,"hi":0.807},{"e":9,"s":"CNN Fourier General","m":0.801,"lo":0.783,"hi":0.819},{"e":10,"s":"CNN Fourier General","m":0.810,"lo":0.792,"hi":0.828},{"e":11,"s":"CNN Fourier General","m":0.808,"lo":0.790,"hi":0.826},{"e":12,"s":"CNN Fourier General","m":0.805,"lo":0.787,"hi":0.823},{"e":13,"s":"CNN Fourier General","m":0.808,"lo":0.790,"hi":0.826},{"e":14,"s":"CNN Fourier General","m":0.814,"lo":0.796,"hi":0.832},{"e":15,"s":"CNN Fourier General","m":0.807,"lo":0.789,"hi":0.825},{"e":16,"s":"CNN Fourier General","m":0.806,"lo":0.788,"hi":0.824},{"e":17,"s":"CNN Fourier General","m":0.803,"lo":0.785,"hi":0.821},{"e":18,"s":"CNN Fourier General","m":0.811,"lo":0.801,"hi":0.821},{"e":19,"s":"CNN Fourier General","m":0.811,"lo":0.801,"hi":0.821},{"e":20,"s":"CNN Fourier General","m":0.812,"lo":0.802,"hi":0.822},{"e":21,"s":"CNN Fourier General","m":0.813,"lo":0.803,"hi":0.823},{"e":22,"s":"CNN Fourier General","m":0.814,"lo":0.804,"hi":0.824},{"e":23,"s":"CNN Fourier General","m":0.817,"lo":0.807,"hi":0.827},{"e":24,"s":"CNN Fourier General","m":0.817,"lo":0.807,"hi":0.827},
{"e":0,"s":"CNN Fourier General log","m":0.767,"lo":0.757,"hi":0.777},{"e":1,"s":"CNN Fourier General log","m":0.776,"lo":0.762,"hi":0.790},{"e":2,"s":"CNN Fourier General log","m":0.780,"lo":0.760,"hi":0.800},{"e":3,"s":"CNN Fourier General log","m":0.790,"lo":0.770,"hi":0.810},{"e":4,"s":"CNN Fourier General log","m":0.807,"lo":0.787,"hi":0.827},{"e":5,"s":"CNN Fourier General log","m":0.806,"lo":0.786,"hi":0.826},{"e":6,"s":"CNN Fourier General log","m":0.816,"lo":0.796,"hi":0.836},{"e":7,"s":"CNN Fourier General log","m":0.806,"lo":0.786,"hi":0.826},{"e":8,"s":"CNN Fourier General log","m":0.814,"lo":0.794,"hi":0.834},{"e":9,"s":"CNN Fourier General log","m":0.824,"lo":0.804,"hi":0.844},{"e":10,"s":"CNN Fourier General log","m":0.830,"lo":0.817,"hi":0.843},{"e":11,"s":"CNN Fourier General log","m":0.817,"lo":0.807,"hi":0.827},{"e":12,"s":"CNN Fourier General log","m":0.811,"lo":0.801,"hi":0.821},{"e":13,"s":"CNN Fourier General log","m":0.822,"lo":0.812,"hi":0.832},{"e":14,"s":"CNN Fourier General log","m":0.822,"lo":0.812,"hi":0.832},{"e":15,"s":"CNN Fourier General log","m":0.823,"lo":0.813,"hi":0.833},{"e":16,"s":"CNN Fourier General log","m":0.822,"lo":0.812,"hi":0.832},{"e":17,"s":"CNN Fourier General log","m":0.820,"lo":0.810,"hi":0.830},{"e":18,"s":"CNN Fourier General log","m":0.824,"lo":0.818,"hi":0.830},{"e":19,"s":"CNN Fourier General log","m":0.823,"lo":0.817,"hi":0.829},{"e":20,"s":"CNN Fourier General log","m":0.825,"lo":0.819,"hi":0.831},{"e":21,"s":"CNN Fourier General log","m":0.825,"lo":0.819,"hi":0.831},{"e":22,"s":"CNN Fourier General log","m":0.826,"lo":0.820,"hi":0.832},{"e":23,"s":"CNN Fourier General log","m":0.827,"lo":0.821,"hi":0.833},{"e":24,"s":"CNN Fourier General log","m":0.827,"lo":0.821,"hi":0.833}
]
},
"columns": 2,
"spacing": {"row": 1, "column": 104},
"bounds": "flush",
"resolve": {"scale": {"x": "independent", "y": "independent", "fill": "independent", "stroke": "independent"}, "legend": {"stroke": "independent", "fill": "independent"}, "axis": {"x": "independent", "y": "independent"}},
"concat": [
{
"width": 556, "height": 427,
"data": {"name": "tl"},
"layer": [
{"mark": {"type": "area", "fillOpacity": 0.12},
 "encoding": {
  "x": {"field": "e", "type": "quantitative", "scale": {"domain": [-1.2, 25.2], "nice": false, "zero": false}, "axis": null},
  "y": {"field": "lo", "type": "quantitative", "scale": {"domain": [0.036, 0.657], "nice": false, "zero": false}, "axis": {"title": "loss", "values": [0.1, 0.2, 0.3, 0.4, 0.5, 0.6], "format": ".2f", "titleX": -70, "titleBaseline": "alphabetic"}},
  "y2": {"field": "hi"},
  "fill": {"field": "s", "type": "nominal", "scale": {"domain": ["CNN Fourier General log", "CNN Fourier General", "CNN Fourier Linear log", "CNN Fourier Linear", "CNN"], "range": ["#b000ff", "#ff0029", "#0088ff", "#00ff33", "#000000"]}, "legend": null}
 }},
{"mark": {"type": "line", "strokeJoin": "round"},
 "encoding": {
  "x": {"field": "e", "type": "quantitative"},
  "y": {"field": "m", "type": "quantitative"},
  "stroke": {"field": "s", "type": "nominal", "scale": {"domain": ["CNN", "CNN Fourier Linear", "CNN Fourier Linear log", "CNN Fourier General", "CNN Fourier General log"], "range": ["#000000", "#00ff33", "#0088ff", "#ff0029", "#b000ff"]}, "legend": {"title": null, "orient": "none", "legendX": 10, "legendY": 234}},
  "strokeWidth": {"condition": {"test": "datum.s === 'CNN'", "value": 4}, "value": 2.8}
 }}
]
},
{
"width": 558, "height": 427,
"data": {"name": "tr"},
"layer": [
{"mark": {"type": "area", "fillOpacity": 0.12},
 "encoding": {
  "x": {"field": "e", "type": "quantitative", "scale": {"domain": [-1.2, 25.2], "nice": false, "zero": false}, "axis": {"title": null, "labels": false, "values": [0, 5, 10, 15, 20, 25]}},
  "y": {"field": "lo", "type": "quantitative", "scale": {"domain": [0.329, 0.863], "nice": false, "zero": false}, "axis": {"title": "loss", "values": [0.4, 0.5, 0.6, 0.7, 0.8], "format": ".2f", "titleX": -68, "titleBaseline": "alphabetic"}},
  "y2": {"field": "hi"},
  "fill": {"field": "s", "type": "nominal", "scale": {"domain": ["CNN Fourier General log", "CNN Fourier General", "CNN Fourier Linear log", "CNN Fourier Linear", "CNN"], "range": ["#b000ff", "#ff0029", "#0088ff", "#00ff33", "#000000"]}, "legend": null}
 }},
{"mark": {"type": "line", "strokeJoin": "round"},
 "encoding": {
  "x": {"field": "e", "type": "quantitative"},
  "y": {"field": "m", "type": "quantitative"},
  "stroke": {"field": "s", "type": "nominal", "scale": {"domain": ["CNN", "CNN Fourier Linear", "CNN Fourier Linear log", "CNN Fourier General", "CNN Fourier General log"], "range": ["#000000", "#00ff33", "#0088ff", "#ff0029", "#b000ff"]}, "legend": {"title": null, "orient": "none", "legendX": 11, "legendY": 13}},
  "strokeWidth": {"condition": {"test": "datum.s === 'CNN'", "value": 4}, "value": 2.8}
 }}
]
},
{
"width": 556, "height": 426,
"data": {"name": "bl"},
"layer": [
{"mark": {"type": "area", "fillOpacity": 0.12},
 "encoding": {
  "x": {"field": "e", "type": "quantitative", "scale": {"domain": [-1.2, 25.2], "nice": false, "zero": false}, "axis": {"title": "epochs", "values": [0, 5, 10, 15, 20, 25], "format": "d", "titleY": 70, "titleBaseline": "alphabetic"}},
  "y": {"field": "lo", "type": "quantitative", "scale": {"domain": [0.626, 0.992], "nice": false, "zero": false}, "axis": {"title": "F1Score", "values": [0.7, 0.8, 0.9], "format": ".2f", "titleX": -70, "titleBaseline": "alphabetic"}},
  "y2": {"field": "hi"},
  "fill": {"field": "s", "type": "nominal", "scale": {"domain": ["CNN Fourier General log", "CNN Fourier General", "CNN Fourier Linear log", "CNN Fourier Linear", "CNN"], "range": ["#b000ff", "#ff0029", "#0088ff", "#00ff33", "#000000"]}, "legend": null}
 }},
{"mark": {"type": "line", "strokeJoin": "round"},
 "encoding": {
  "x": {"field": "e", "type": "quantitative"},
  "y": {"field": "m", "type": "quantitative"},
  "stroke": {"field": "s", "type": "nominal", "scale": {"domain": ["CNN", "CNN Fourier Linear", "CNN Fourier Linear log", "CNN Fourier General", "CNN Fourier General log"], "range": ["#000000", "#00ff33", "#0088ff", "#ff0029", "#b000ff"]}, "legend": {"title": null, "orient": "none", "legendX": 233, "legendY": 236}},
  "strokeWidth": {"condition": {"test": "datum.s === 'CNN'", "value": 4}, "value": 2.8}
 }}
]
},
{
"width": 558, "height": 426,
"data": {"name": "br"},
"layer": [
{"mark": {"type": "area", "fillOpacity": 0.12},
 "encoding": {
  "x": {"field": "e", "type": "quantitative", "scale": {"domain": [-1.2, 25.2], "nice": false, "zero": false}, "axis": {"title": "epochs", "values": [0, 5, 10, 15, 20, 25], "format": "d", "titleY": 70, "titleBaseline": "alphabetic"}},
  "y": {"field": "lo", "type": "quantitative", "scale": {"domain": [0.639, 0.854], "nice": false, "zero": false}, "axis": {"title": "F1Score", "values": [0.65, 0.7, 0.75, 0.8, 0.85], "format": ".2f", "titleX": -68, "titleBaseline": "alphabetic"}},
  "y2": {"field": "hi"},
  "fill": {"field": "s", "type": "nominal", "scale": {"domain": ["CNN Fourier General log", "CNN Fourier General", "CNN Fourier Linear log", "CNN Fourier Linear", "CNN"], "range": ["#b000ff", "#ff0029", "#0088ff", "#00ff33", "#000000"]}, "legend": null}
 }},
{"mark": {"type": "line", "strokeJoin": "round"},
 "encoding": {
  "x": {"field": "e", "type": "quantitative"},
  "y": {"field": "m", "type": "quantitative"},
  "stroke": {"field": "s", "type": "nominal", "scale": {"domain": ["CNN", "CNN Fourier Linear", "CNN Fourier Linear log", "CNN Fourier General", "CNN Fourier General log"], "range": ["#000000", "#00ff33", "#0088ff", "#ff0029", "#b000ff"]}, "legend": {"title": null, "orient": "none", "legendX": 234, "legendY": 234}},
  "strokeWidth": {"condition": {"test": "datum.s === 'CNN'", "value": 4}, "value": 2.8}
 }}
]
}
]
}
